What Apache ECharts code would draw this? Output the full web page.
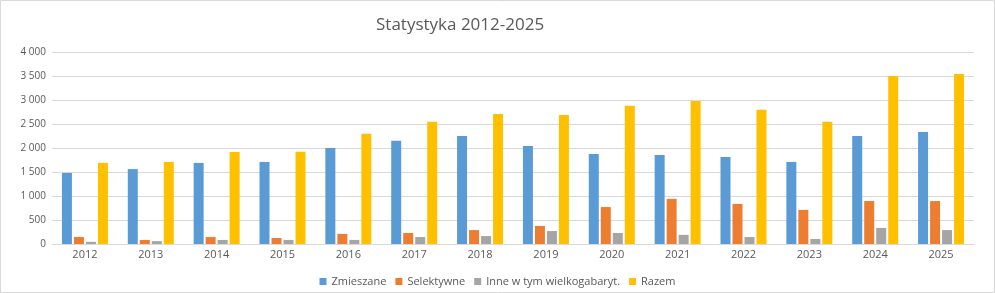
<!DOCTYPE html>
<html>
<head>
<meta charset="utf-8">
<script src="https://cdn.jsdelivr.net/npm/echarts@6/dist/echarts.min.js"></script>
<style>
    html, body { margin: 0; padding: 0; background: #fff; }
    #chart { width: 995px; height: 293px; }
</style>
</head>
<body>
<div id="chart"></div>
<script>
var years = ['2012', '2013', '2014', '2015', '2016', '2017', '2018', '2019', '2020', '2021', '2022', '2023', '2024', '2025'];
var zmieszane = [1480, 1560, 1690, 1710, 2000, 2150, 2250, 2040, 1875, 1855, 1815, 1710, 2250, 2335];
var selektywne = [145, 85, 145, 125, 210, 230, 290, 375, 770, 940, 835, 710, 895, 895];
var inne = [45, 60, 85, 85, 85, 145, 165, 270, 230, 190, 145, 105, 335, 290];
var razem = [1690, 1710, 1915, 1920, 2295, 2545, 2710, 2690, 2880, 2980, 2795, 2545, 3500, 3540];

var dom = document.getElementById("chart");
var myChart = echarts.init(dom);

var textColor = '#595959';
var lineColor = '#d9d9d9';

function fmt(v) {
    // 4000 -> "4 000"
    return String(v).replace(/\B(?=(\d{3})+(?!\d))/g, ' ');
}

function bar(name, data, color) {
    return {
        name: name,
        type: 'bar',
        data: data,
        barWidth: 10,
        barGap: '20%',
        itemStyle: { color: color }
    };
}

var option = {
    animation: false,
    textStyle: { fontFamily: 'Open Sans' },
    graphic: [{
        type: 'rect',
        shape: { x: 0.5, y: 0.5, width: 994, height: 292 },
        style: { fill: 'none', stroke: lineColor, lineWidth: 1 },
        silent: true
    }],
    title: {
        text: 'Statystyka 2012-2025',
        left: 371,
        top: 12,
        textStyle: { color: textColor, fontSize: 17, fontWeight: 'normal' }
    },
    legend: {
        bottom: 1,
        left: 'center',
        itemWidth: 7,
        itemHeight: 7,
        itemGap: 9,
        icon: 'rect',
        textStyle: { color: textColor, fontSize: 11 },
        data: ['Zmieszane', 'Selektywne', 'Inne w tym wielkogabaryt.', 'Razem']
    },
    grid: {
        left: 52,
        right: 21,
        top: 52,
        bottom: 49,
        containLabel: false
    },
    xAxis: {
        type: 'category',
        data: years,
        axisLine: { lineStyle: { color: lineColor } },
        axisTick: { show: false },
        axisLabel: { color: textColor, fontSize: 11, margin: 5 }
    },
    yAxis: {
        type: 'value',
        min: 0,
        max: 4000,
        interval: 500,
        axisLine: { show: false },
        axisTick: { show: false },
        splitLine: { lineStyle: { color: lineColor } },
        axisLabel: { color: textColor, fontSize: 10, margin: 6, formatter: fmt }
    },
    series: [
        bar('Zmieszane', zmieszane, '#5B9BD5'),
        bar('Selektywne', selektywne, '#ED7D31'),
        bar('Inne w tym wielkogabaryt.', inne, '#A5A5A5'),
        bar('Razem', razem, '#FFC000')
    ]
};

myChart.setOption(option);

window.onresize = function() {
    myChart.resize();
};
</script>
</body>
</html>
